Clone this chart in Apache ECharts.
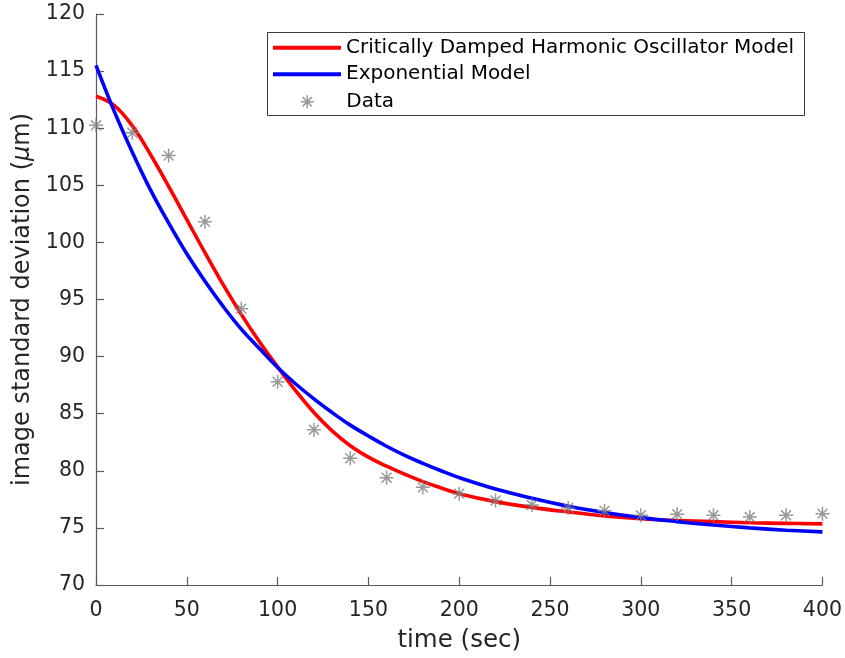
<!DOCTYPE html>
<html><head><meta charset="utf-8">
<script src="https://cdn.jsdelivr.net/npm/echarts@6/dist/echarts.min.js"></script>
<style>html,body{margin:0;padding:0;background:#fff}#c{width:845px;height:658px}</style>
</head><body><div id="c"></div>
<script>
// time samples for the fitted curves
const curveT = [0,10,20,30,40,50,60,70,80,90,100,110,120,130,140,150,160,170,180,190,200,220,240,260,280,300,320,340,360,380,400];
const redY = [112.8,112.0,110.2,107.7,104.9,102.0,99.1,96.3,93.7,91.3,89.1,87.0,85.1,83.5,82.2,81.2,80.4,79.7,79.05,78.5,78.0,77.3,76.8,76.4,76.05,75.8,75.65,75.55,75.45,75.4,75.35];
const blueY = [115.5,111.5,107.9,104.6,101.7,99.0,96.6,94.4,92.4,90.7,89.05,87.6,86.3,85.1,84.0,83.05,82.15,81.35,80.65,80.0,79.4,78.4,77.6,76.9,76.35,75.9,75.55,75.25,75.0,74.8,74.65];
const dataT = [0,20,40,60,80,100,120,140,160,180,200,220,240,260,280,300,320,340,360,380,400];
const dataY = [110.25,109.6,107.6,101.8,94.2,87.8,83.6,81.1,79.4,78.55,78.0,77.4,77.0,76.75,76.5,76.1,76.2,76.1,75.95,76.1,76.25];
const seriesNames = ['Critically Damped Harmonic Oscillator Model','Exponential Model','Data'];
const xAxisName = 'time (sec)';
const yAxisName = '{n|image standard deviation (}{i|μ}{n|m)}';

const FONT = 'DejaVu Sans';
const TXT = '#262626';
const AX = '#5a5a5a';
const star = 'path://M0,-1L0,1M-1,0L1,0M-0.7071,-0.7071L0.7071,0.7071M-0.7071,0.7071L0.7071,-0.7071';

const zip = (a, b) => a.map((v, i) => [v, b[i]]);

const chart = echarts.init(document.getElementById('c'), null, {renderer: 'canvas'});
chart.setOption({
  animation: false,
  backgroundColor: '#fff',
  textStyle: {fontFamily: FONT},
  grid: {left: 96, right: 21, top: 14, bottom: 70, containLabel: false},
  xAxis: {
    type: 'value', min: 0, max: 400, interval: 50,
    axisLine: {show: true, onZero: false, lineStyle: {color: AX, width: 1.2}},
    axisTick: {show: true, inside: true, length: 8, lineStyle: {color: AX, width: 1.2}},
    axisLabel: {fontSize: 20.5, color: TXT, margin: 15, fontFamily: FONT},
    splitLine: {show: false},
    name: xAxisName, nameLocation: 'middle', nameGap: 43,
    nameTextStyle: {fontSize: 24.5, color: TXT, fontFamily: FONT}
  },
  yAxis: {
    type: 'value', min: 70, max: 120, interval: 5,
    axisLine: {show: true, onZero: false, lineStyle: {color: AX, width: 1.2}},
    axisTick: {show: true, inside: true, length: 8, lineStyle: {color: AX, width: 1.2}},
    axisLabel: {fontSize: 20.5, color: TXT, margin: 11, fontFamily: FONT},
    splitLine: {show: false},
    name: yAxisName, nameLocation: 'middle', nameGap: 58,
    nameTextStyle: {
      fontSize: 24, color: TXT, fontFamily: FONT,
      rich: {
        n: {fontSize: 24, color: TXT, fontFamily: FONT},
        i: {fontSize: 24, color: TXT, fontFamily: FONT, fontStyle: 'italic'}
      }
    }
  },
  graphic: [{
    type: 'rect', z: 3,
    shape: {x: 267.5, y: 32.5, width: 537, height: 83},
    style: {fill: '#fff', stroke: '#3a3a3a', lineWidth: 1}
  }],
  legend: [
    {
      data: [
        {name: seriesNames[0], icon: 'rect', itemStyle: {color: '#ff0000'}},
        {name: seriesNames[1], icon: 'rect', itemStyle: {color: '#0000ff'}}
      ],
      orient: 'vertical', left: 273, top: 34.5, itemGap: 0, padding: 0,
      itemWidth: 68, itemHeight: 4, z: 5,
      textStyle: {fontSize: 20, color: '#000', fontFamily: FONT, lineHeight: 26.5},
      selectedMode: false
    },
    {
      data: [{name: seriesNames[2], itemStyle: {color: 'rgba(0,0,0,0)', borderColor: '#808080', borderWidth: 1.5}}],
      orient: 'vertical', left: 300, top: 88.5, itemGap: 0, padding: 0,
      itemWidth: 68, itemHeight: 13, z: 5,
      textStyle: {fontSize: 20, color: '#000', fontFamily: FONT, lineHeight: 26.5},
      selectedMode: false
    }
  ],
  series: [
    {
      name: seriesNames[0], type: 'line', data: zip(curveT, redY),
      symbol: 'none', smooth: 0.4, z: 2,
      lineStyle: {color: '#ff0000', width: 3.6}, itemStyle: {color: '#ff0000'}
    },
    {
      name: seriesNames[1], type: 'line', data: zip(curveT, blueY),
      symbol: 'none', smooth: 0.4, z: 2,
      lineStyle: {color: '#0000ff', width: 3.6}, itemStyle: {color: '#0000ff'}
    },
    {
      name: seriesNames[2], type: 'scatter', data: zip(dataT, dataY),
      symbol: star, symbolSize: 14, symbolKeepAspect: true, z: 3,
      itemStyle: {color: 'rgba(0,0,0,0)', borderColor: '#808080', borderWidth: 1.5}
    }
  ]
});
</script>
</body></html>
